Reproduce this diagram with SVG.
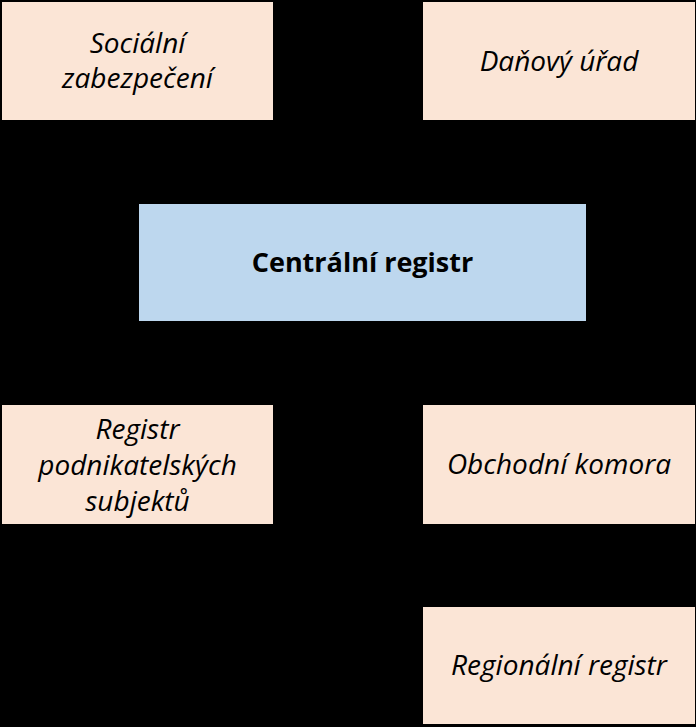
<svg xmlns="http://www.w3.org/2000/svg" width="696" height="727" viewBox="0 0 696 727">
<style>
.bg{fill:#000}
.peach{fill:#fbe5d6}
.blue{fill:#bdd7ee}
.t{font-family:"Open Sans","Noto Sans",sans-serif;font-size:28px;font-style:italic;fill:#000;text-anchor:middle}
.b{font-family:"Open Sans","Noto Sans",sans-serif;font-size:27px;font-weight:bold;fill:#000;text-anchor:middle}
</style>
<rect class="bg" x="0" y="0" width="696" height="727"/>
<g id="connectors"></g>
<g id="socialni">
<rect class="peach" x="2" y="2" width="271" height="118"/>
<text class="t" x="137.5" y="53">Sociální</text>
<text class="t" x="137.5" y="88">zabezpečení</text>
</g>
<g id="danovy">
<rect class="peach" x="423" y="2" width="272" height="118"/>
<text class="t" x="559" y="71">Daňový úřad</text>
</g>
<g id="centralni">
<rect class="blue" x="139" y="204" width="447" height="117"/>
<text class="b" x="362.5" y="272">Centrální registr</text>
</g>
<g id="registr-podnikatelskych">
<rect class="peach" x="2" y="405" width="271" height="119"/>
<text class="t" x="137.5" y="439">Registr</text>
<text class="t" x="137.5" y="475">podnikatelských</text>
<text class="t" x="137.5" y="511">subjektů</text>
</g>
<g id="obchodni">
<rect class="peach" x="423" y="405" width="272" height="119"/>
<text class="t" x="559" y="474">Obchodní komora</text>
</g>
<g id="regionalni">
<rect class="peach" x="423" y="607" width="272" height="117"/>
<text class="t" x="559" y="675">Regionální registr</text>
</g>
</svg>
